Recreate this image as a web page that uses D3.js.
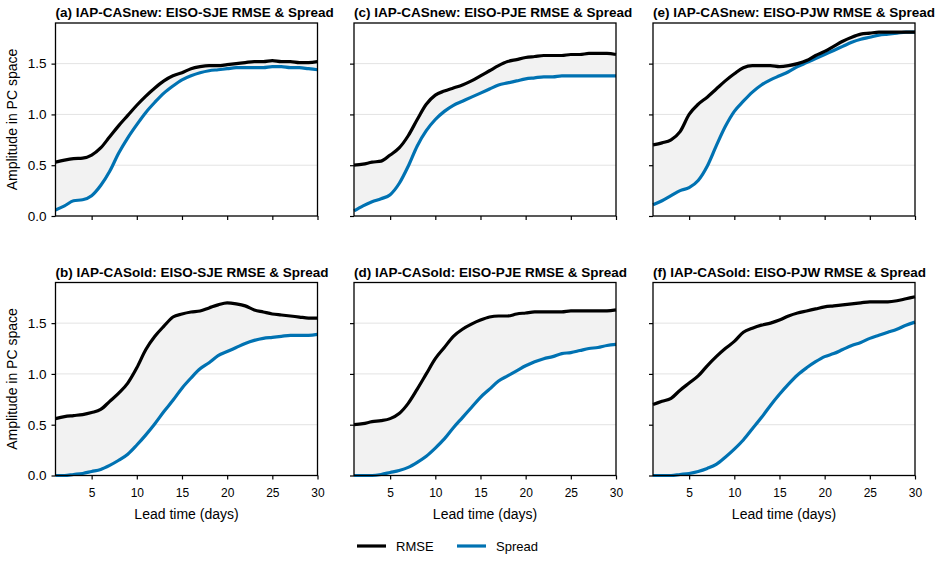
<!DOCTYPE html>
<html>
<head>
<meta charset="utf-8">
<script src="https://cdn.jsdelivr.net/npm/d3@7"></script>
<style>
  html, body { margin: 0; padding: 0; background: #fff; overflow: hidden; }
  svg { display: block; }
  svg text { font-family: "Liberation Sans", Arial, sans-serif; fill: #000; }
  .x-axis .tick text { font-size: 12px; }
  .y-axis .tick text { font-size: 13.5px; }
  .panel-title { font-size: 13.5px; font-weight: bold; }
  .axis-label { font-size: 14px; }
  .legend-label { font-size: 13px; }
</style>
</head>
<body>
<svg width="951" height="562"></svg>
<script>
const svg = d3.select("svg")

const days = d3.range(1, 31)
const yTicks = [0, 0.5, 1.0, 1.5]
const xTicks = [5, 10, 15, 20, 25, 30]

const titles = [
  "(a) IAP-CASnew: EISO-SJE RMSE & Spread",
  "(c) IAP-CASnew: EISO-PJE RMSE & Spread",
  "(e) IAP-CASnew: EISO-PJW RMSE & Spread",
  "(b) IAP-CASold: EISO-SJE RMSE & Spread",
  "(d) IAP-CASold: EISO-PJE RMSE & Spread",
  "(f) IAP-CASold: EISO-PJW RMSE & Spread"
]

// RMSE, days 1..30
const rmseA = [0.53,0.55,0.565,0.57,0.60,0.67,0.78,0.89,0.99,1.09,1.18,1.26,1.33,1.38,1.41,1.45,1.47,1.48,1.48,1.49,1.50,1.51,1.52,1.52,1.53,1.52,1.52,1.51,1.51,1.52]
const rmseC = [0.50,0.51,0.53,0.54,0.60,0.67,0.79,0.95,1.10,1.19,1.23,1.26,1.29,1.33,1.38,1.43,1.48,1.52,1.54,1.56,1.57,1.58,1.58,1.58,1.59,1.59,1.60,1.60,1.60,1.59]
const rmseE = [0.70,0.72,0.75,0.83,1.00,1.10,1.17,1.25,1.33,1.40,1.46,1.48,1.48,1.48,1.47,1.48,1.50,1.53,1.58,1.62,1.67,1.72,1.76,1.79,1.80,1.81,1.81,1.81,1.81,1.81]
const rmseB = [0.56,0.58,0.59,0.60,0.62,0.65,0.73,0.81,0.91,1.06,1.24,1.37,1.47,1.56,1.59,1.61,1.62,1.65,1.68,1.70,1.69,1.67,1.63,1.61,1.59,1.58,1.57,1.56,1.55,1.55]
const rmseD = [0.50,0.51,0.53,0.54,0.56,0.61,0.71,0.85,1.00,1.15,1.26,1.37,1.44,1.49,1.53,1.56,1.57,1.57,1.59,1.60,1.61,1.61,1.61,1.61,1.62,1.62,1.62,1.62,1.62,1.63]
const rmseF = [0.70,0.73,0.76,0.84,0.91,0.98,1.08,1.17,1.25,1.32,1.41,1.45,1.48,1.50,1.53,1.57,1.60,1.62,1.64,1.66,1.67,1.68,1.69,1.70,1.71,1.71,1.71,1.72,1.74,1.76]

// Spread, days 1..30
const spreadA = [0.06,0.10,0.15,0.16,0.20,0.30,0.44,0.62,0.77,0.90,1.02,1.12,1.21,1.28,1.34,1.38,1.41,1.43,1.44,1.45,1.46,1.46,1.46,1.46,1.47,1.47,1.46,1.46,1.45,1.44]
const spreadC = [0.05,0.10,0.14,0.17,0.21,0.32,0.49,0.69,0.84,0.95,1.03,1.09,1.13,1.17,1.21,1.25,1.29,1.31,1.33,1.35,1.36,1.37,1.37,1.38,1.38,1.38,1.38,1.38,1.38,1.38]
const spreadE = [0.11,0.15,0.20,0.25,0.28,0.35,0.49,0.69,0.88,1.03,1.13,1.22,1.29,1.34,1.38,1.42,1.47,1.51,1.55,1.59,1.63,1.67,1.71,1.74,1.76,1.78,1.79,1.80,1.81,1.81]
const spreadB = [0.00,0.00,0.01,0.02,0.04,0.06,0.10,0.15,0.21,0.30,0.40,0.51,0.63,0.74,0.86,0.96,1.05,1.11,1.18,1.22,1.26,1.30,1.33,1.35,1.36,1.37,1.38,1.38,1.38,1.39]
const spreadD = [0.00,0.00,0.00,0.01,0.03,0.05,0.08,0.13,0.19,0.27,0.36,0.47,0.57,0.67,0.77,0.85,0.93,0.98,1.03,1.08,1.12,1.15,1.17,1.20,1.21,1.23,1.25,1.26,1.28,1.29]
const spreadF = [0.00,0.00,0.00,0.01,0.02,0.04,0.07,0.11,0.18,0.26,0.35,0.46,0.57,0.69,0.80,0.90,0.99,1.06,1.12,1.17,1.20,1.24,1.28,1.31,1.35,1.38,1.41,1.44,1.48,1.51]

const rmseSeries = [rmseA, rmseC, rmseE, rmseB, rmseD, rmseF]
const spreadSeries = [spreadA, spreadC, spreadE, spreadB, spreadD, spreadF]

const rmseColor = "#000000"
const spreadColor = "#0072B2"
const fillColor = "#f2f2f2"

const colLeft = [55.5, 354, 653]
const rowTop = [23, 282.5]
const innerWidth = 262
const innerHeight = 193

const xScale = d3.scaleLinear().domain([1, 30]).range([0, innerWidth])
const yScale = d3.scaleLinear().domain([0, 1.9]).range([innerHeight, 0])

const line = (vals) => d3.line()
  .x((d, i) => xScale(days[i]))
  .y((d) => yScale(d))
  .curve(d3.curveMonotoneX)(vals)

const band = d3.area()
  .x((d) => xScale(d.day))
  .y0((d) => yScale(d.spread))
  .y1((d) => yScale(d.rmse))
  .curve(d3.curveMonotoneX)

titles.forEach((title, k) => {
  const col = k % 3
  const row = Math.floor(k / 3)
  const g = svg.append("g")
    .attr("transform", `translate(${colLeft[col]},${rowTop[row]})`)

  // grid
  g.selectAll(".grid").data(yTicks.slice(1)).enter()
    .append("line")
    .attr("x1", 0).attr("x2", innerWidth)
    .attr("y1", (d) => yScale(d)).attr("y2", (d) => yScale(d))
    .attr("stroke", "#e3e3e3").attr("stroke-width", 1)

  const rows = days.map((d, i) => ({ day: d, rmse: rmseSeries[k][i], spread: spreadSeries[k][i] }))
  g.append("path").datum(rows)
    .attr("d", band)
    .attr("fill", fillColor)
    .attr("stroke", "none")

  g.append("path")
    .attr("d", line(spreadSeries[k]))
    .attr("fill", "none").attr("stroke", spreadColor).attr("stroke-width", 3.2)
    .attr("stroke-linejoin", "round")
  g.append("path")
    .attr("d", line(rmseSeries[k]))
    .attr("fill", "none").attr("stroke", rmseColor).attr("stroke-width", 3.2)
    .attr("stroke-linejoin", "round")

  const xAxis = d3.axisBottom(xScale).tickValues(xTicks).tickSize(4).tickPadding(9)
  const yAxis = d3.axisLeft(yScale).tickValues(yTicks).tickSize(4).tickPadding(5)
    .tickFormat(d3.format(".1f"))

  const xAxisG = g.append("g").attr("class", "x-axis")
    .attr("transform", `translate(0,${innerHeight})`).call(xAxis)
  const yAxisG = g.append("g").attr("class", "y-axis").call(yAxis)
  xAxisG.select(".domain").remove()
  yAxisG.select(".domain").remove()
  xAxisG.selectAll(".tick line").attr("stroke-width", 1.2)
  yAxisG.selectAll(".tick line").attr("stroke-width", 1.2)
  if (row === 0) xAxisG.selectAll(".tick text").remove()
  if (col > 0) yAxisG.selectAll(".tick text").remove()

  // frame
  g.append("rect")
    .attr("width", innerWidth).attr("height", innerHeight)
    .attr("fill", "none").attr("stroke", "#000").attr("stroke-width", 1.3)

  g.append("text")
    .attr("class", "panel-title")
    .attr("x", 0).attr("y", -6)
    .text(title)

  if (row === 1) {
    g.append("text")
      .attr("class", "axis-label")
      .attr("x", innerWidth / 2).attr("y", innerHeight + 43)
      .attr("text-anchor", "middle")
      .text("Lead time (days)")
  }
  if (col === 0) {
    g.append("text")
      .attr("class", "axis-label")
      .attr("transform", `translate(-39,${innerHeight / 2}) rotate(-90)`)
      .attr("text-anchor", "middle")
      .text("Amplitude in PC space")
  }
})

// legend
const legendItems = [
  { name: "RMSE", color: rmseColor, x: 357 },
  { name: "Spread", color: spreadColor, x: 457 }
]
const legend = svg.append("g").attr("transform", "translate(0,546)")
legendItems.forEach((item) => {
  legend.append("line")
    .attr("x1", item.x).attr("x2", item.x + 29)
    .attr("y1", 0).attr("y2", 0)
    .attr("stroke", item.color).attr("stroke-width", 3.2)
  legend.append("text")
    .attr("class", "legend-label")
    .attr("x", item.x + 39).attr("y", 4.5)
    .text(item.name)
})
</script>
</body>
</html>
